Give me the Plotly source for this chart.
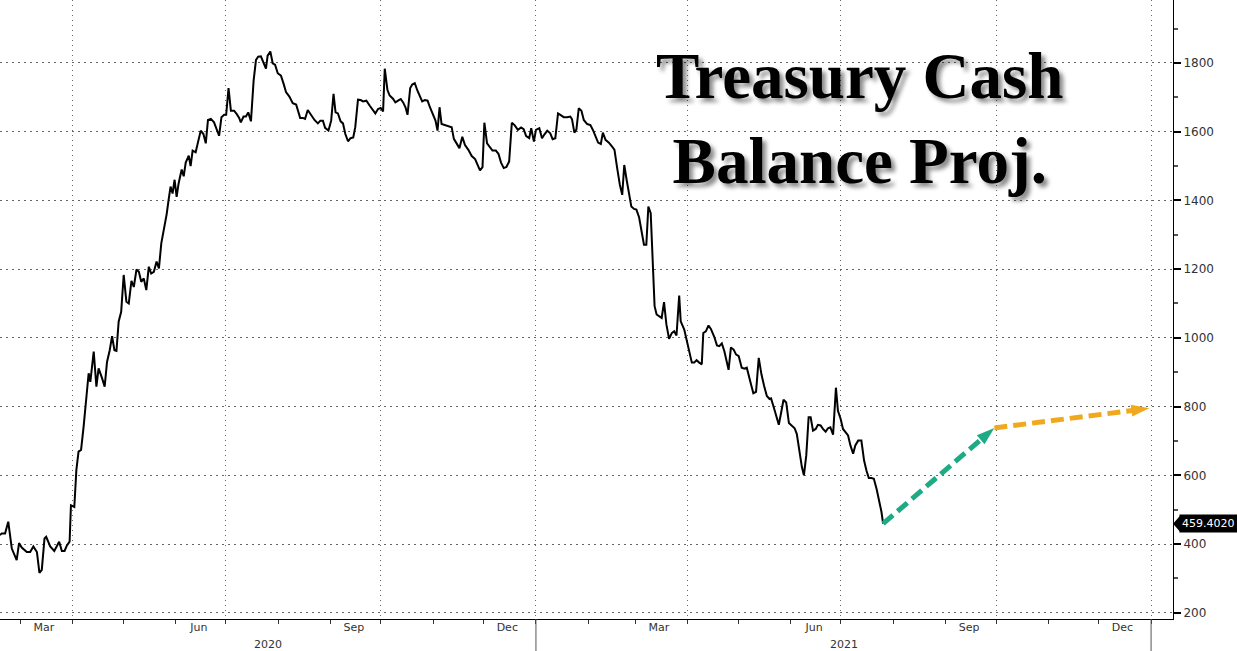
import pandas as pd
import plotly.graph_objects as go

# ---------------- data ----------------
start_date = "2020-02-18"
days_since_start = [
    0, 1.0, 3.0, 4.9, 7.0, 9.9, 11.3, 12.9, 15.9, 17.9, 19.8, 21.9, 23.4, 24.8, 26.4, 27.4,
    29.8, 32.2, 35.1, 36.7, 38.3, 39.7, 41.3, 42.1, 44.1, 45.3, 46.6, 48.1, 49.6, 51.2, 52.6,
    53.6, 55.6, 57.2, 58.5, 60.6, 62.1, 63.5, 65.1, 66.5, 67.9, 69.1, 70.4, 71.9, 73.4, 75.0,
    76.4, 78.0, 79.4, 81.0, 82.4, 83.8, 85.3, 86.8, 88.3, 89.7, 91.3, 92.9, 94.3, 95.7, 97.2,
    98.9, 100.0, 101.2, 102.4, 103.6, 104.8, 106.0, 107.8, 109.0, 110.2, 112.0, 113.1, 114.3,
    116.1, 117.3, 119.1, 120.7, 122.1, 123.4, 125.1, 127.0, 128.6, 130.0, 131.4, 133.0, 134.2,
    135.6, 137.0, 138.9, 140.5, 141.9, 142.9, 144.5, 145.9, 147.3, 148.9, 150.5, 151.9, 153.2,
    154.8, 156.4, 157.8, 158.8, 160.4, 161.8, 163.2, 164.8, 166.7, 168.3, 169.7, 171.7, 173.7,
    175.7, 178.1, 179.7, 181.0, 182.6, 184.6, 186.6, 188.6, 190.1, 191.6, 192.9, 194.9, 196.5,
    197.9, 199.1, 200.5, 202.1, 203.5, 204.9, 206.5, 208.0, 209.6, 210.8, 212.4, 214.0, 215.4,
    217.4, 219.3, 221.3, 222.7, 224.3, 225.9, 227.3, 228.3, 229.9, 231.2, 233.3, 234.6, 236.2,
    237.8, 239.2, 240.6, 241.8, 243.4, 244.6, 246.1, 247.7, 249.3, 250.5, 252.1, 253.7, 255.1,
    257.1, 258.4, 259.6, 260.8, 262.0, 264.0, 266.0, 268.0, 269.3, 271.0, 272.6, 274.3, 275.9,
    277.9, 279.9, 281.9, 283.5, 284.8, 286.3, 287.4, 289.0, 290.8, 292.2, 294.2, 295.8, 297.3,
    298.9, 300.5, 302.1, 303.7, 305.3, 307.3, 309.2, 310.7, 312.2, 314.0, 315.2, 316.8, 318.0,
    320.0, 321.6, 323.2, 324.7, 326.5, 327.9, 329.5, 331.1, 332.7, 334.5, 336.5, 338.4, 339.4,
    340.8, 342.0, 343.4, 345.0, 346.4, 348.4, 350.3, 351.8, 353.3, 354.9, 356.5, 357.7, 359.3,
    361.3, 363.3, 364.6, 366.2, 367.8, 369.2, 370.4, 371.8, 373.2, 374.6, 376.2, 377.6, 379.2,
    380.5, 382.1, 383.5, 384.7, 386.1, 387.1, 388.4, 389.6, 391.1, 392.6, 394.0, 395.4, 397.0,
    398.6, 400.0, 401.4, 403.0, 403.9, 406.0, 407.3, 408.9, 410.5, 411.9, 413.3, 414.9, 416.4,
    417.3, 418.8, 420.4, 421.8, 423.8, 425.4, 426.8, 428.3, 429.8, 431.1, 432.3, 433.7, 435.3,
    436.7, 438.3, 440.1, 441.7, 443.1, 444.2, 445.6, 447.0, 448.6, 450.2, 451.8, 453.4, 455.0,
    456.6, 457.5, 459.1, 460.5, 462.1, 463.5, 464.9, 466.5, 468.1, 469.7, 471.5, 472.8, 474.4,
    475.8, 477.0, 478.4, 479.8, 481.0, 482.4, 484.0, 485.3, 486.9, 488.3, 489.9, 491.3, 492.7,
    494.3, 495.0, 496.0, 497.2, 498.8, 500.2, 501.8, 503.2, 504.6, 506.2, 507.5, 509.2, 511.1,
    512.7, 514.1, 515.5, 517.1, 518.5, 520.1, 521.7, 523.0, 524.0,
]
cash_balance = [
    426, 431, 431, 465, 387, 353, 403, 390, 377, 377, 393, 377, 316, 325, 416, 421,
    393, 380, 407, 380, 380, 396, 407, 513, 508, 615, 669, 674, 741, 829, 897,
    872, 960, 858, 911, 882, 858, 930, 964, 1005, 964, 962, 1047, 1076, 1183, 1105,
    1100, 1166, 1148, 1199, 1192, 1163, 1173, 1139, 1207, 1187, 1192, 1222, 1202, 1275, 1314,
    1360, 1400, 1440, 1420, 1460, 1410, 1450, 1490, 1470, 1510, 1530, 1500, 1545,
    1540, 1565, 1603, 1593, 1566, 1634, 1637, 1627, 1608, 1588, 1642, 1649, 1649,
    1727, 1661, 1661, 1651, 1640, 1627, 1644, 1644, 1656, 1630, 1749, 1809, 1818,
    1819, 1797, 1783, 1821, 1833, 1799, 1795, 1770, 1763, 1739, 1715, 1702, 1683,
    1679, 1640, 1640, 1637, 1663, 1649, 1634, 1624, 1632, 1632, 1611, 1603, 1632,
    1710, 1656, 1653, 1630, 1624, 1593, 1572, 1581, 1583, 1613, 1693, 1692, 1688,
    1690, 1676, 1661, 1653, 1666, 1669, 1659, 1783, 1721, 1705, 1695, 1685, 1690,
    1695, 1685, 1671, 1649, 1727, 1737, 1741, 1719, 1702, 1688, 1692, 1690, 1671,
    1649, 1632, 1603, 1671, 1622, 1619, 1615, 1613, 1579, 1564, 1552, 1585, 1561,
    1547, 1529, 1520, 1503, 1487, 1497, 1626, 1566, 1556, 1545, 1545, 1535, 1510,
    1494, 1497, 1513, 1626, 1619, 1605, 1612, 1607, 1587, 1581, 1610, 1571, 1605,
    1610, 1581, 1593, 1603, 1595, 1578, 1581, 1653, 1648, 1642, 1642, 1644, 1636,
    1597, 1606, 1668, 1661, 1634, 1622, 1619, 1605, 1585, 1568, 1564, 1597, 1576,
    1568, 1556, 1547, 1494, 1445, 1416, 1503, 1460, 1416, 1382, 1375, 1373, 1351,
    1315, 1271, 1271, 1382, 1363, 1237, 1092, 1068, 1063, 1058, 1104, 1039, 997,
    1014, 1019, 1007, 1123, 1048, 1024, 995, 957, 928, 928, 935, 928, 923,
    1014, 1019, 1036, 1026, 1003, 978, 976, 984, 961, 937, 907, 972, 966,
    952, 947, 913, 910, 913, 889, 865, 839, 843, 942, 894, 860, 831,
    822, 824, 798, 773, 747, 783, 820, 812, 752, 745, 737, 720, 667,
    624, 600, 658, 769, 769, 730, 735, 747, 745, 735, 727, 737, 740,
    718, 764, 855, 788, 764, 735, 725, 716, 687, 663, 687, 701, 701,
    643, 614, 592, 592, 590, 561, 523, 494, 459.402,
]
projection_dates = ["2021-09-30", "2021-12-31"]
projection_values = [738, 795]

title_lines = ["Treasury Cash", "Balance Proj."]
month_labels = ["Mar", "Jun", "Sep", "Dec", "Mar", "Jun", "Sep", "Dec"]
month_label_dates = ["2020-03-15", "2020-06-15", "2020-09-15", "2020-12-15",
                     "2021-03-15", "2021-06-15", "2021-09-15", "2021-12-15"]
y_ticks = [200, 400, 600, 800, 1000, 1200, 1400, 1600, 1800]

x_range = ["2020-02-18", "2022-01-14"]
y_range = [182, 1983]

# ---------------- build ----------------
dates = pd.Timestamp(start_date) + pd.to_timedelta(days_since_start, unit="D")
last_date = dates[-1]
last_value = cash_balance[-1]

GREEN = "#1DAA85"
ORANGE = "#F0A91E"

fig = go.Figure()

fig.add_trace(go.Scatter(
    x=dates, y=cash_balance, mode="lines",
    line=dict(color="black", width=2), showlegend=False, hoverinfo="skip"))

fig.add_trace(go.Scatter(
    x=[last_date, projection_dates[0]], y=[last_value, projection_values[0]],
    mode="lines+markers",
    line=dict(color=GREEN, width=5, dash="13px,6px"),
    marker=dict(symbol="arrow", size=[0, 19], color=GREEN, angleref="previous",
                line=dict(width=0), opacity=1),
    showlegend=False, hoverinfo="skip"))

fig.add_trace(go.Scatter(
    x=projection_dates, y=projection_values,
    mode="lines+markers",
    line=dict(color=ORANGE, width=5, dash="13px,6px"),
    marker=dict(symbol="arrow", size=[0, 19], color=ORANGE, angleref="previous",
                line=dict(width=0), opacity=1),
    showlegend=False, hoverinfo="skip"))

# invisible trace to activate label axis
fig.add_trace(go.Scatter(x=x_range, y=y_range, xaxis="x2", mode="markers",
                         marker=dict(opacity=0), showlegend=False, hoverinfo="skip"))

quarter_starts = pd.date_range("2020-04-01", "2022-01-01", freq="QS")

fig.update_layout(
    width=1237, height=651,
    margin=dict(l=0, r=64, t=0, b=32, autoexpand=False),
    paper_bgcolor="white", plot_bgcolor="white",
    font=dict(family="DejaVu Sans", color="#333333"),
    xaxis=dict(
        type="date", range=x_range,
        tickvals=list(quarter_starts), showticklabels=False,
        ticks="outside", ticklen=4, tickcolor="#333333",
        showgrid=True, gridcolor="#666666", gridwidth=1, griddash="1px,4px",
        showline=True, linecolor="black", linewidth=1,
        minor=dict(dtick="M1", tick0="2020-01-01", ticks="outside", ticklen=4,
                   tickcolor="#333333", showgrid=False),
        zeroline=False,
    ),
    xaxis2=dict(
        type="date", range=x_range, overlaying="x", side="bottom",
        tickvals=month_label_dates, ticktext=month_labels,
        ticks="", showgrid=False, showline=False, zeroline=False,
        tickfont=dict(family="DejaVu Sans", size=11, color="#333333"),
    ),
    yaxis=dict(
        range=y_range, side="right",
        tickvals=y_ticks, ticks="outside", ticklen=7, tickwidth=2, tickcolor="black",
        tickfont=dict(family="DejaVu Sans", size=12, color="#333333"),
        showgrid=True, gridcolor="#666666", gridwidth=1, griddash="2px,4px",
        showline=True, linecolor="black", linewidth=1,
        minor=dict(dtick=100, tick0=100, ticks="outside", ticklen=4,
                   tickcolor="#555555", showgrid=False),
        zeroline=False,
    ),
)

# Title
fig.add_annotation(
    x=0.733, y=0.809, xref="paper", yref="paper",
    text="<br>".join(title_lines), showarrow=False,
    font=dict(family="Liberation Serif", size=65, color="black", weight="bold",
              shadow="4px 4px 4px rgba(0,0,0,0.45)"),
    align="center", xanchor="center", yanchor="middle")

# Year labels and separators
range_start = pd.Timestamp(x_range[0])
for year_start, year_end, label in [
    (range_start, pd.Timestamp("2021-01-01"), "2020"),
    (pd.Timestamp("2021-01-01"), pd.Timestamp("2022-01-01"), "2021"),
]:
    mid = year_start + (year_end - year_start) / 2
    fig.add_annotation(x=mid, y=-0.042, xref="x", yref="paper", text=label,
                       showarrow=False, yanchor="middle",
                       font=dict(family="DejaVu Sans", size=11, color="#333333"))

for sep in ["2021-01-01", "2022-01-01"]:
    fig.add_shape(type="line", xref="x", yref="paper", x0=sep, x1=sep, y0=0, y1=-0.06,
                  line=dict(color="#555555", width=1))

# Last value label
fig.add_annotation(
    x=1, y=last_value, xref="paper", yref="y", xanchor="left", yanchor="middle",
    xshift=6, text=f"{last_value:.4f}", showarrow=False,
    bgcolor="black", borderpad=2,
    font=dict(family="DejaVu Sans", size=11, color="white"))
dy = (y_range[1] - y_range[0]) * 8 / 619
fig.add_shape(type="path", xref="paper", yref="y",
              path=f"M 1,{last_value} L {1 + 7/1173},{last_value + dy} L {1 + 7/1173},{last_value - dy} Z",
              fillcolor="black", line=dict(width=0))

fig.write_html("out.html", config={"displayModeBar": False},
               post_script="document.body.style.margin='0px';")
